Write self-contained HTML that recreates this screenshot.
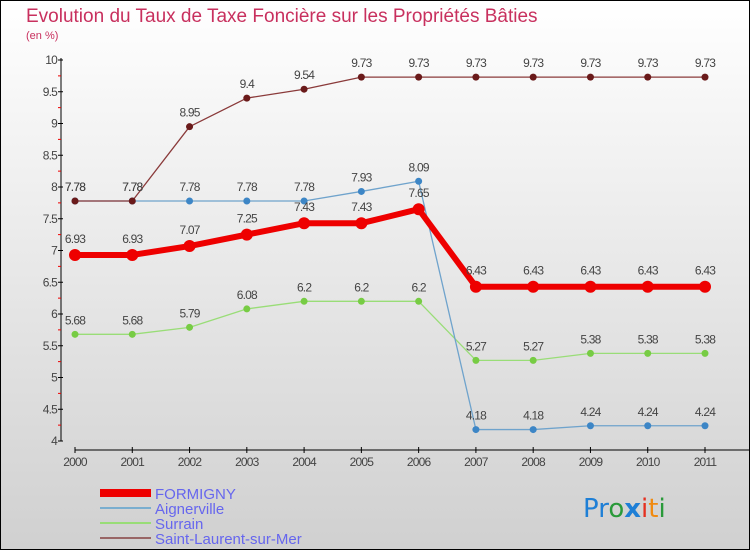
<!DOCTYPE html>
<html><head><meta charset="utf-8">
<style>
body{margin:0;width:750px;height:550px;overflow:hidden;font-family:"Liberation Sans",sans-serif;}
svg{display:block}
</style></head><body>
<svg id="chart" width="750" height="550" xmlns="http://www.w3.org/2000/svg">
<defs><linearGradient id="bg" x1="0" y1="0" x2="0" y2="1"><stop offset="0" stop-color="#ffffff"/><stop offset="1" stop-color="#d0d0d0"/></linearGradient></defs>
<rect x="0.5" y="0.5" width="749" height="549" fill="url(#bg)" stroke="#000"/>
<text x="26" y="22" font-size="19" fill="#c8305e">Evolution du Taux de Taxe Foncière sur les Propriétés Bâties</text>
<text x="26" y="39" font-size="11" fill="#c8305e">(en %)</text>
<g id="axes"></g>
<g id="series"></g>
<g id="legend">
<rect x="100" y="489" width="51" height="8" fill="#ee0000"/>
<text x="155" y="499" font-size="15" fill="#6666ee">FORMIGNY</text>
<rect x="100" y="507" width="51" height="2" fill="#7aaecf"/>
<text x="155" y="514" font-size="15" fill="#6666ee">Aignerville</text>
<rect x="100" y="522" width="51" height="2" fill="#99dd77"/>
<text x="155" y="529" font-size="15" fill="#6666ee">Surrain</text>
<rect x="100" y="537" width="51" height="2" fill="#996666"/>
<text x="155" y="544" font-size="15" fill="#6666ee">Saint-Laurent-sur-Mer</text>
</g>
<text x="583" y="517" font-size="26" font-family="'DejaVu Sans',sans-serif"><tspan fill="#1e7fd6">Pr</tspan><tspan fill="#2a9a3a">o</tspan><tspan fill="#1e7fd6" font-weight="bold">x</tspan><tspan fill="#e53020">i</tspan><tspan fill="#f08a10">t</tspan><tspan fill="#2a9a3a">i</tspan></text>
</svg>
<script>
const years=[2000,2001,2002,2003,2004,2005,2006,2007,2008,2009,2010,2011];
const yTicks=[4,4.5,5,5.5,6,6.5,7,7.5,8,8.5,9,9.5,10];
const formigny=[6.93,6.93,7.07,7.25,7.43,7.43,7.65,6.43,6.43,6.43,6.43,6.43];
const aignerville=[7.78,7.78,7.78,7.78,7.78,7.93,8.09,4.18,4.18,4.24,4.24,4.24];
const surrain=[5.68,5.68,5.79,6.08,6.2,6.2,6.2,5.27,5.27,5.38,5.38,5.38];
const saintLaurent=[7.78,7.78,8.95,9.4,9.54,9.73,9.73,9.73,9.73,9.73,9.73,9.73];
const NS="http://www.w3.org/2000/svg";
const xs=i=>75+i*(630/11);
const ys=v=>441-(v-4)*63.5;
function mk(tag,attrs,parent){const e=document.createElementNS(NS,tag);for(const k in attrs)e.setAttribute(k,attrs[k]);parent.appendChild(e);return e;}
const ax=document.getElementById('axes');
let yl=mk('line',{x1:61,y1:58,x2:61,y2:441,stroke:'#000'},ax);


let xl=mk('line',{x1:75,y1:450,x2:750,y2:450,stroke:'#000'},ax);


yTicks.forEach((t,i)=>{const y=ys(t);
 mk('line',{x1:58,y1:y,x2:63,y2:y,stroke:'#000'},ax);
 if(i<yTicks.length-1){mk('line',{x1:58,y1:ys(t+0.25),x2:61,y2:ys(t+0.25),stroke:'#e00'},ax);}
 const tx=mk('text',{x:57,y:y+4,'font-size':12,'text-anchor':'end',fill:'#444','letter-spacing':'-0.8'},ax);tx.textContent=String(t);
 
 
});
years.forEach((yr,i)=>{const x=xs(i);
 mk('line',{x1:x,y1:447,x2:x,y2:453,stroke:'#000'},ax);
 const tx=mk('text',{x:x,y:466,'font-size':12,'text-anchor':'middle',fill:'#444','letter-spacing':'-0.8'},ax);tx.textContent=String(yr);
 
 
});
const sg=document.getElementById('series');
function draw(vals,color,dot,w,r,name,off){
 const g=mk('g',{},sg);
 
 
 mk('polyline',{points:vals.map((v,i)=>xs(i)+','+ys(v)).join(' '),fill:'none',stroke:color,'stroke-width':w,'stroke-linejoin':'round'},g);
 vals.forEach((v,i)=>{const c=mk('circle',{cx:xs(i),cy:ys(v),r:r,fill:dot},g);
  
  
  const t=mk('text',{x:xs(i),y:ys(v)-off,'font-size':12,'text-anchor':'middle',fill:'#444','letter-spacing':'-0.8'},g);t.textContent=String(v);
  
  
 });
}
draw(surrain,'#99dd77','#77cc44',1.3,3.5,'series-surrain',10);
draw(aignerville,'#6fa3cc','#3d86c6',1.3,3.5,'series-aignerville',10);
draw(saintLaurent,'#8a3a3a','#6a1a1a',1.3,3.5,'series-saint-laurent',10);
draw(formigny,'#ee0000','#ee0000',6,6,'series-formigny',12);
</script>
</body></html>
